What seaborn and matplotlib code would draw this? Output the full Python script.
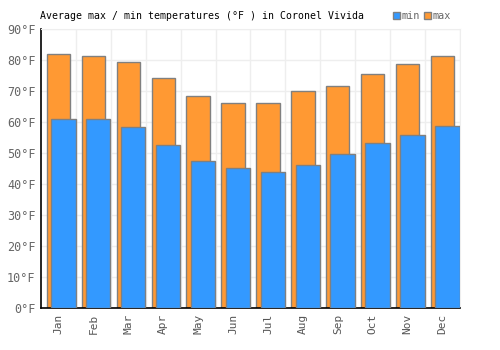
import pandas as pd
import matplotlib.pyplot as plt
import seaborn as sns
from matplotlib.patches import Patch

months = ['Jan', 'Feb', 'Mar', 'Apr', 'May', 'Jun', 'Jul', 'Aug', 'Sep', 'Oct', 'Nov', 'Dec']
temp_max = [81.8, 81.2, 79.3, 74.1, 68.3, 66.0, 66.3, 69.9, 71.5, 75.4, 78.6, 81.2]
temp_min = [60.9, 61.0, 58.3, 52.5, 47.3, 45.1, 43.8, 46.0, 49.6, 53.1, 55.7, 58.6]
y_ticks = [0, 10, 20, 30, 40, 50, 60, 70, 80, 90]

df = pd.DataFrame({'month': months, 'max': temp_max, 'min': temp_min})

sns.set_style('white')
plt.rcParams['font.family'] = ['DejaVu Sans Mono']

fig = plt.figure(figsize=(5, 3.5), dpi=100)
ax = fig.add_axes([0.082, 0.12, 0.838, 0.797])

orange = '#ff9933'
blue = '#3399ff'
edge = '#808080'

sns.barplot(data=df, x='month', y='max', color=orange, width=0.67,
            edgecolor=edge, linewidth=1, saturation=1, ax=ax, zorder=2)
n_max = len(ax.patches)
sns.barplot(data=df, x='month', y='min', color=blue, width=0.70,
            edgecolor=edge, linewidth=1, saturation=1, ax=ax, zorder=3)
for p in ax.patches[n_max:]:
    p.set_x(p.get_x() + 0.14)

ax.set_xlim(-0.5, len(months) - 0.5)
ax.set_ylim(0, 90)
ax.set_yticks(y_ticks)
ax.set_yticklabels([f'{t}°F' for t in y_ticks], color='#666666', fontsize=8.5)
ax.set_xticks(range(len(months)))
ax.set_xticklabels(months, rotation=90, color='#555555', fontsize=8)
ax.set_xticks([i + 0.5 for i in range(len(months))], minor=True)
ax.tick_params(axis='both', length=0, pad=4)
ax.tick_params(axis='x', which='minor', length=0)
ax.grid(True, which='major', axis='y', color='#eeeeee', linewidth=1, zorder=0)
ax.grid(True, which='minor', axis='x', color='#eeeeee', linewidth=1, zorder=0)
ax.set_axisbelow(True)
ax.set_xlabel('')
ax.set_ylabel('')

for s in ['top', 'right']:
    ax.spines[s].set_color('#eeeeee')
for s in ['left', 'bottom']:
    ax.spines[s].set_color('black')
    ax.spines[s].set_linewidth(1.2)

fig.text(0.08, 0.955, 'Average max / min temperatures (°F ) in Coronel Vivida',
         fontsize=7.1, color='black', va='center')

handles = [Patch(facecolor=blue, edgecolor=edge, label='min'),
           Patch(facecolor=orange, edgecolor=edge, label='max')]
leg = fig.legend(handles=handles, loc='center left', bbox_to_anchor=(0.778, 0.955),
                 ncol=2, frameon=False, fontsize=7.3, handlelength=0.7, handleheight=0.7,
                 handletextpad=0.15, columnspacing=0.4, borderaxespad=0)
for t in leg.get_texts():
    t.set_color('#666666')

fig.savefig('out.png', dpi=100)
